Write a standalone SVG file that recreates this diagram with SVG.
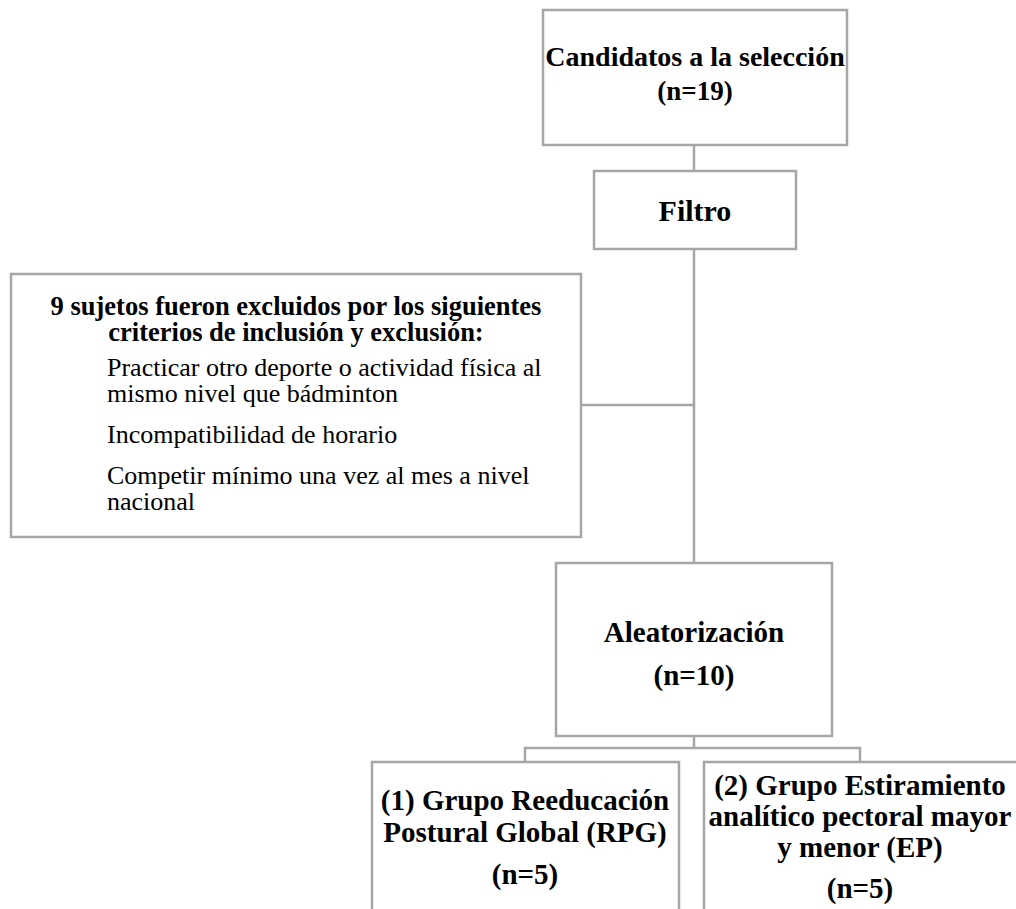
<svg xmlns="http://www.w3.org/2000/svg" width="1016" height="909" viewBox="0 0 1016 909">
<style>
.box{fill:#fff;stroke:#a6a6a6;stroke-width:2.5}
.ln{fill:none;stroke:#a6a6a6;stroke-width:2.5}
.b{font-family:"Liberation Serif","Times New Roman",serif;font-weight:bold;fill:#000}
.r{font-family:"Liberation Serif","Times New Roman",serif;fill:#000}
.c{text-anchor:middle}
</style>
<rect width="1016" height="909" fill="#fff"/>
<g id="connectors">
<line class="ln" x1="694" y1="145" x2="694" y2="171"/>
<line class="ln" x1="694" y1="249" x2="694" y2="563"/>
<line class="ln" x1="581" y1="405" x2="694" y2="405"/>
<polyline class="ln" points="694,736 694,748"/>
<polyline class="ln" points="525,762 525,748 860,748 860,762"/>
</g>
<g id="candidatos">
<rect class="box" x="543" y="10" width="304" height="135"/>
<text class="b c" x="695" y="66" font-size="28">Candidatos a la selección</text>
<text class="b c" x="695" y="100" font-size="27">(n=19)</text>
</g>
<g id="filtro">
<rect class="box" x="594" y="171" width="202" height="78"/>
<text class="b c" x="695" y="221" font-size="30">Filtro</text>
</g>
<g id="excluidos">
<rect class="box" x="11" y="274" width="570" height="263"/>
<text class="b c" x="296" y="315" font-size="26.5">9 sujetos fueron excluidos por los siguientes</text>
<text class="b c" x="296" y="341" font-size="26.5">criterios de inclusión y exclusión:</text>
<text class="r" x="107" y="376" font-size="26">Practicar otro deporte o actividad física al</text>
<text class="r" x="107" y="402" font-size="26">mismo nivel que bádminton</text>
<text class="r" x="107" y="443" font-size="26">Incompatibilidad de horario</text>
<text class="r" x="107" y="484" font-size="26">Competir mínimo una vez al mes a nivel</text>
<text class="r" x="107" y="510" font-size="26">nacional</text>
</g>
<g id="aleatorizacion">
<rect class="box" x="556" y="563" width="276" height="173"/>
<text class="b c" x="694" y="642" font-size="29">Aleatorización</text>
<text class="b c" x="694" y="685" font-size="29">(n=10)</text>
</g>
<g id="rpg">
<rect class="box" x="372" y="762" width="307" height="160"/>
<text class="b c" x="525" y="810" font-size="29">(1) Grupo Reeducación</text>
<text class="b c" x="525" y="842" font-size="29">Postural Global (RPG)</text>
<text class="b c" x="525" y="884" font-size="29">(n=5)</text>
</g>
<g id="ep">
<rect class="box" x="704" y="762" width="320" height="160"/>
<text class="b c" x="860" y="795" font-size="29">(2) Grupo Estiramiento</text>
<text class="b c" x="860" y="826" font-size="29">analítico pectoral mayor</text>
<text class="b c" x="860" y="857" font-size="29">y menor (EP)</text>
<text class="b c" x="860" y="898" font-size="29">(n=5)</text>
</g>
</svg>
